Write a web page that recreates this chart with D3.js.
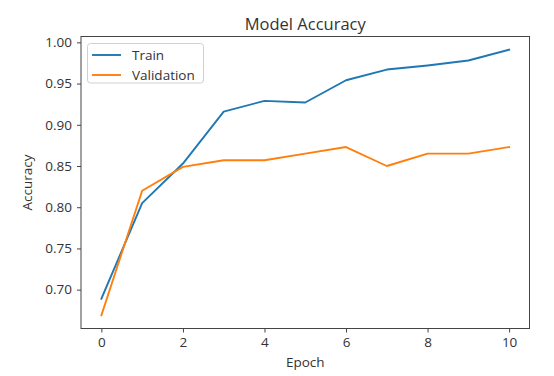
<!DOCTYPE html>
<html>
<head>
<meta charset="utf-8">
<script src="https://cdn.jsdelivr.net/npm/d3@7"></script>
<style>
  html, body { margin: 0; padding: 0; background: #fff; }
  svg { display: block; font-family: "Open Sans", sans-serif; }
</style>
</head>
<body>
<svg id="chart" width="554" height="376"></svg>
<script>
const epochs = [0, 1, 2, 3, 4, 5, 6, 7, 8, 9, 10];
const trainAcc = [0.689, 0.805, 0.853, 0.916, 0.929, 0.927, 0.954, 0.967, 0.972, 0.978, 0.991];
const valAcc   = [0.669, 0.820, 0.849, 0.857, 0.857, 0.865, 0.873, 0.850, 0.865, 0.865, 0.873];
const xTicks = [0, 2, 4, 6, 8, 10];
const yTicks = [0.70, 0.75, 0.80, 0.85, 0.90, 0.95, 1.00];
const seriesNames = ["Train", "Validation"];
const seriesColors = ["#1f77b4", "#ff7f0e"];

const svg = d3.select("#chart");
const pLeft = 81, pRight = 529.5, pTop = 36.5, pBottom = 328.5;

// matplotlib-like 5% margins
function padDomain(vals) {
  const lo = d3.min(vals), hi = d3.max(vals), r = hi - lo;
  return [lo - 0.05 * r, hi + 0.05 * r];
}
const x = d3.scaleLinear().domain(padDomain(epochs)).range([pLeft, pRight]);
const y = d3.scaleLinear().domain(padDomain(trainAcc.concat(valAcc))).range([pBottom, pTop]);

const textColor = "#333";
const axisColor = "#444";

// lines
const line = d3.line().x((d, i) => x(epochs[i])).y(d => y(d));
[trainAcc, valAcc].forEach((s, k) => {
  svg.append("path").datum(s)
    .attr("d", line)
    .attr("fill", "none")
    .attr("stroke", seriesColors[k])
    .attr("stroke-width", 1.9)
    .attr("stroke-linejoin", "round")
    .attr("stroke-linecap", "square");
});

// frame
svg.append("rect")
  .attr("x", pLeft).attr("y", pTop)
  .attr("width", pRight - pLeft).attr("height", pBottom - pTop)
  .attr("fill", "none").attr("stroke", axisColor).attr("stroke-width", 1);

// axes
const xAxis = d3.axisBottom(x).tickValues(xTicks).tickSize(4).tickPadding(5).tickFormat(d3.format("d"));
const gx = svg.append("g").attr("transform", `translate(0,${pBottom})`).call(xAxis);
const yAxis = d3.axisLeft(y).tickValues(yTicks).tickSize(4).tickPadding(5).tickFormat(d3.format(".2f"));
const gy = svg.append("g").attr("transform", `translate(${pLeft},0)`).call(yAxis);
[gx, gy].forEach(g => {
  g.select(".domain").remove();
  g.selectAll(".tick line").attr("stroke", axisColor);
  g.selectAll(".tick text").attr("fill", textColor)
    .style("font-size", "13.5px").style("font-family", "'Open Sans', sans-serif");
});

// title
svg.append("text")
  .attr("x", (pLeft + pRight) / 2).attr("y", 30)
  .attr("text-anchor", "middle")
  .attr("fill", textColor)
  .style("font-size", "16.5px")
  .text("Model Accuracy");

// axis labels
svg.append("text")
  .attr("x", (pLeft + pRight) / 2).attr("y", 367)
  .attr("text-anchor", "middle")
  .attr("fill", textColor)
  .style("font-size", "13.5px")
  .text("Epoch");
svg.append("text")
  .attr("transform", `translate(32,${(pTop + pBottom) / 2}) rotate(-90)`)
  .attr("text-anchor", "middle")
  .attr("fill", textColor)
  .style("font-size", "13.5px")
  .text("Accuracy");

// legend
const lg = svg.append("g");
lg.append("rect")
  .attr("x", 87.5).attr("y", 43.5).attr("width", 116).attr("height", 39.5)
  .attr("rx", 3).attr("fill", "#fff").attr("fill-opacity", 0.8)
  .attr("stroke", "#d0d0d0").attr("stroke-width", 1);
seriesNames.forEach((name, k) => {
  const yy = 55 + k * 20;
  lg.append("line")
    .attr("x1", 92).attr("x2", 121).attr("y1", yy).attr("y2", yy)
    .attr("stroke", seriesColors[k]).attr("stroke-width", 1.9);
  lg.append("text")
    .attr("x", 132).attr("y", yy).attr("dy", "0.35em")
    .attr("fill", textColor)
    .style("font-size", "13.5px")
    .text(name);
});
</script>
</body>
</html>
